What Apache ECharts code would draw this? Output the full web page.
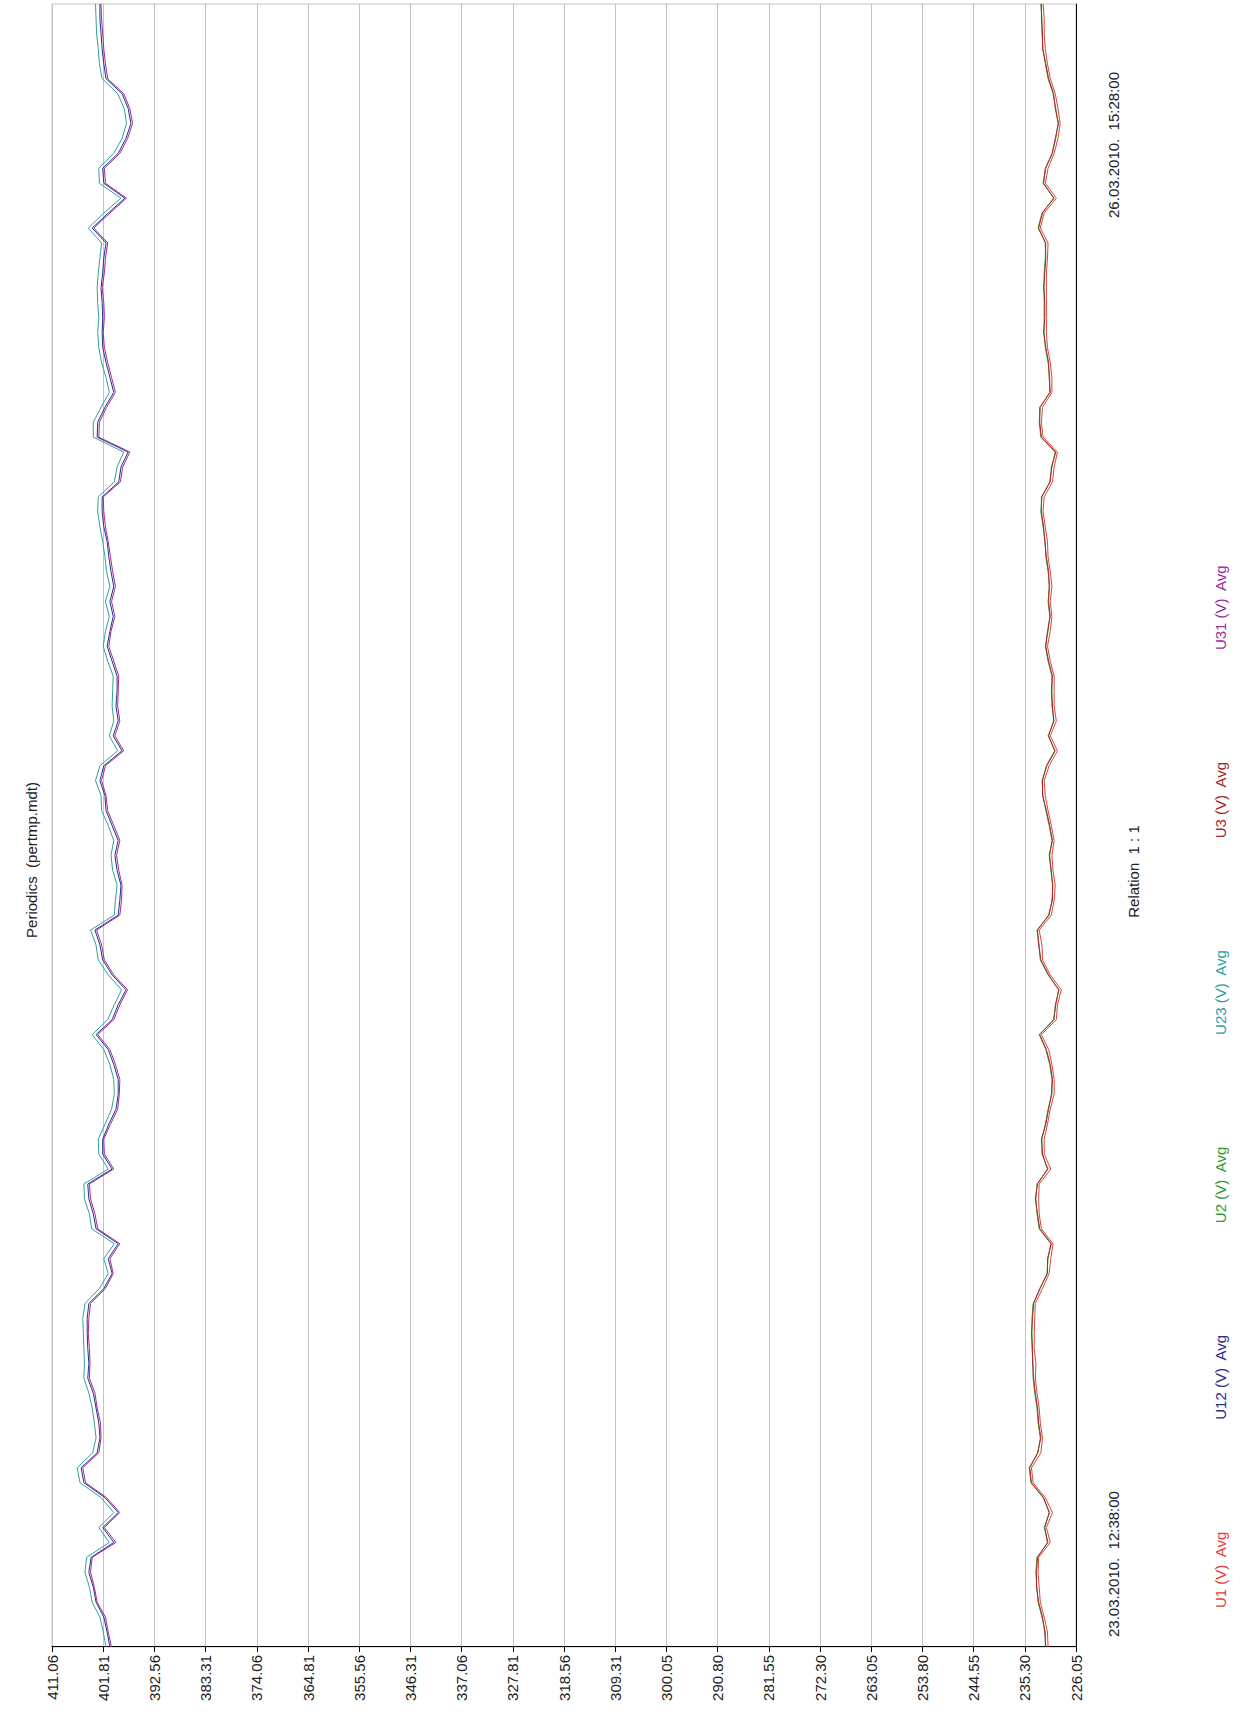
<!DOCTYPE html>
<html>
<head>
<meta charset="utf-8">
<title>Periodics (pertmp.mdt)</title>
<script src="https://cdn.jsdelivr.net/npm/echarts@6/dist/echarts.min.js"></script>
<style>
  html, body { margin: 0; padding: 0; background: #fff; }
  body { width: 1244px; height: 1720px; overflow: hidden; position: relative; }
  /* the chart is laid out landscape and turned a quarter left, like the original printout */
  #chart { position: absolute; left: 0; top: 0; width: 1720px; height: 1244px;
           transform-origin: 0 0; transform: translate(0, 1720px) rotate(-90deg); }
</style>
</head>
<body>
<div id="chart"></div>
<script>
console.log("Starting periodics chart...");

const startTime = Date.UTC(2010, 2, 23, 12, 38, 0);
const endTime = Date.UTC(2010, 2, 26, 15, 28, 0);
const pointCount = 111;

const valueMin = 226.05;
const valueMax = 411.06;
const valueStep = 9.2505;
const valueTicks = ['226.05', '235.30', '244.55', '253.80', '263.05', '272.30', '281.55',
  '290.80', '300.05', '309.31', '318.56', '327.81', '337.06', '346.31', '355.56',
  '364.81', '374.06', '383.31', '392.56', '401.81', '411.06'];

const seriesNames = ['U1 (V)  Avg', 'U12 (V)  Avg', 'U2 (V)  Avg', 'U23 (V)  Avg', 'U3 (V)  Avg', 'U31 (V)  Avg'];
const seriesColors = ['#e2403c', '#2c2c8e', '#2f9a2f', '#2fa0a0', '#a32a2a', '#9c2c9c'];

const u1 = [231.1, 231.2, 231.8, 232.5, 232.7, 232.9, 232.8, 230.7, 231.4, 230.3,
  231.6, 233.8, 234.1, 232.4, 232.1, 232.5, 232.7, 233.1, 233.4, 233.3,
  233.6, 233.6, 233.5, 233.4, 232.1, 230.9, 230.6, 230.2, 232.3, 232.7,
  232.8, 232.7, 230.6, 231.8, 231.8, 231.2, 230.7, 230.0, 230.0, 230.4,
  231.0, 232.3, 229.6, 229.4, 228.7, 230.7, 232.1, 232.2, 232.7, 230.5,
  230.0, 229.8, 230.2, 230.4, 230.0, 230.5, 231.1, 231.6, 231.8, 230.9,
  229.4, 230.7, 229.6, 230.0, 230.0, 230.0, 230.7, 231.2, 230.7, 230.4,
  230.7, 230.4, 230.7, 231.1, 231.2, 231.6, 232.0, 231.8, 230.3, 230.0,
  229.4, 232.0, 232.3, 232.1, 230.4, 230.4, 230.7, 231.2, 231.4, 231.4,
  231.4, 231.4, 231.4, 231.2, 231.1, 232.5, 231.8, 229.6, 231.6, 231.1,
  230.0, 229.3, 228.9, 229.3, 229.8, 230.7, 231.2, 231.6, 231.8, 231.8,
  232.0];

const u12 = [400.6, 401.1, 401.7, 403.1, 403.6, 404.4, 404.0, 399.9, 401.9, 399.1,
  401.5, 405.3, 405.8, 402.9, 402.4, 402.6, 403.1, 403.6, 404.6, 404.4,
  404.6, 404.7, 404.7, 404.4, 401.7, 400.2, 400.9, 399.1, 403.1, 403.6,
  404.4, 404.6, 400.2, 401.9, 401.9, 400.8, 399.5, 399.1, 399.1, 399.9,
  400.9, 403.1, 400.2, 399.1, 397.7, 400.2, 401.9, 402.4, 403.3, 399.1,
  398.8, 398.6, 399.3, 399.7, 399.1, 400.2, 401.3, 401.5, 402.4, 401.7,
  398.4, 400.0, 399.1, 399.5, 399.3, 399.3, 400.2, 401.1, 400.6, 400.0,
  400.6, 399.9, 400.4, 400.8, 401.1, 401.7, 402.0, 402.0, 399.0, 398.6,
  397.3, 402.9, 402.8, 401.5, 399.9, 400.6, 401.3, 401.9, 402.0, 401.9,
  402.0, 402.2, 401.9, 401.7, 401.3, 403.8, 400.9, 397.9, 401.7, 401.9,
  399.1, 397.7, 396.8, 397.3, 398.4, 401.3, 401.7, 402.0, 402.2, 402.4,
  402.4];

const u2 = [231.6, 231.6, 232.2, 232.9, 233.1, 233.3, 233.1, 231.1, 231.8, 230.8,
  232.0, 234.2, 234.5, 232.9, 232.5, 232.9, 233.1, 233.5, 233.8, 233.8,
  234.0, 234.0, 234.0, 233.8, 232.5, 231.3, 231.1, 230.6, 232.7, 233.1,
  233.3, 233.1, 231.1, 232.2, 232.2, 231.6, 231.1, 230.4, 230.4, 230.8,
  231.5, 232.7, 230.0, 229.8, 229.1, 231.1, 232.5, 232.7, 233.1, 230.9,
  230.4, 230.2, 230.6, 230.8, 230.4, 230.9, 231.5, 232.0, 232.2, 231.3,
  229.8, 231.1, 230.0, 230.4, 230.4, 230.4, 231.1, 231.6, 231.1, 230.8,
  231.1, 230.8, 231.1, 231.5, 231.6, 232.0, 232.4, 232.2, 230.8, 230.4,
  229.8, 232.4, 232.7, 232.5, 230.8, 230.8, 231.1, 231.6, 231.8, 231.8,
  231.8, 231.8, 231.8, 231.6, 231.5, 232.9, 232.2, 230.0, 232.0, 231.5,
  230.4, 229.7, 229.3, 229.7, 230.2, 231.1, 231.6, 232.0, 232.2, 232.2,
  232.4];

const u23 = [401.3, 401.8, 402.4, 403.8, 404.3, 405.1, 404.8, 400.7, 402.6, 399.9,
  402.2, 406.0, 406.5, 403.7, 403.1, 403.4, 403.8, 404.4, 405.3, 405.2,
  405.3, 405.4, 405.5, 405.1, 402.5, 400.9, 401.7, 399.8, 403.9, 404.3,
  405.2, 405.3, 400.9, 402.6, 402.7, 401.5, 400.3, 399.8, 399.9, 400.6,
  401.7, 403.8, 401.0, 399.8, 398.5, 400.9, 402.7, 403.1, 404.1, 399.8,
  399.6, 399.3, 400.1, 400.4, 399.9, 400.9, 402.1, 402.2, 403.2, 402.4,
  399.2, 400.7, 399.9, 400.2, 400.1, 400.0, 401.0, 401.8, 401.4, 400.7,
  401.4, 400.6, 401.2, 401.5, 401.9, 402.4, 402.8, 402.7, 399.8, 399.3,
  398.1, 403.6, 403.6, 402.2, 400.7, 401.3, 402.1, 402.6, 402.8, 402.6,
  402.8, 402.9, 402.7, 402.4, 402.1, 404.5, 401.7, 398.6, 402.5, 402.6,
  399.9, 398.4, 397.6, 398.0, 399.2, 402.0, 402.5, 402.7, 403.0, 403.1,
  403.2];

const u3 = [231.5, 231.7, 232.1, 232.8, 233.2, 233.2, 233.0, 231.2, 231.7, 230.9,
  231.9, 234.1, 234.4, 233.0, 232.4, 232.8, 233.0, 233.4, 233.7, 233.9,
  233.9, 234.1, 233.9, 233.7, 232.6, 231.2, 231.2, 230.5, 232.6, 233.0,
  233.4, 233.0, 231.2, 232.1, 232.3, 231.5, 231.0, 230.5, 230.3, 230.7,
  231.4, 232.6, 230.1, 229.7, 229.2, 231.0, 232.4, 232.8, 233.0, 231.0,
  230.3, 230.3, 230.5, 230.9, 230.3, 230.8, 231.4, 232.1, 232.1, 231.4,
  229.9, 231.0, 230.1, 230.3, 230.5, 230.3, 231.0, 231.5, 231.2, 230.7,
  231.0, 230.9, 231.0, 231.4, 231.7, 231.9, 232.3, 232.3, 230.7, 230.5,
  229.7, 232.3, 232.6, 232.6, 230.7, 230.9, 231.0, 231.5, 231.9, 231.7,
  231.7, 231.9, 231.7, 231.5, 231.6, 232.8, 232.1, 230.1, 231.9, 231.6,
  230.3, 229.8, 229.2, 229.8, 230.1, 231.0, 231.5, 232.1, 232.1, 232.3,
  232.3];

const u31 = [400.3, 400.9, 401.4, 402.9, 403.4, 404.1, 403.8, 399.5, 401.6, 398.8,
  401.2, 405.0, 405.5, 402.6, 402.2, 402.3, 402.9, 403.3, 404.3, 404.2,
  404.3, 404.5, 404.4, 404.1, 401.4, 400.0, 400.6, 398.8, 402.8, 403.3,
  404.1, 404.3, 399.9, 401.6, 401.7, 400.5, 399.2, 398.9, 398.8, 399.6,
  400.6, 402.8, 399.9, 398.8, 397.4, 399.9, 401.6, 402.1, 403.0, 398.8,
  398.5, 398.4, 399.0, 399.4, 398.8, 399.9, 401.0, 401.3, 402.1, 401.4,
  398.1, 399.7, 398.8, 399.2, 399.1, 399.0, 399.9, 400.8, 400.4, 399.7,
  400.3, 399.6, 400.1, 400.5, 400.9, 401.4, 401.7, 401.8, 398.7, 398.3,
  397.0, 402.6, 402.5, 401.2, 399.6, 400.3, 401.0, 401.6, 401.8, 401.6,
  401.7, 402.0, 401.6, 401.4, 401.0, 403.5, 400.6, 397.6, 401.4, 401.6,
  398.8, 397.4, 396.5, 397.0, 398.1, 401.0, 401.4, 401.7, 401.9, 402.1,
  402.2];

const seriesValues = [u1, u12, u2, u23, u3, u31];

function pad(n) {
    return (n < 10 ? '0' : '') + n;
}

function formatTime(ms) {
    const d = new Date(ms);
    return pad(d.getUTCDate()) + '.' + pad(d.getUTCMonth() + 1) + '.' + d.getUTCFullYear() + '.  ' +
        pad(d.getUTCHours()) + ':' + pad(d.getUTCMinutes()) + ':' + pad(d.getUTCSeconds());
}

// one category per sample, evenly spread between first and last record
const timeLabels = [];
for (let i = 0; i < pointCount; i++) {
    const t = startTime + Math.round((endTime - startTime) * i / (pointCount - 1) / 1000) * 1000;
    timeLabels.push(formatTime(t));
}

const font = 'Liberation Sans';
const chart = echarts.init(document.getElementById('chart'), null, { renderer: 'svg' });

const option = {
    animation: false,
    backgroundColor: '#fff',
    title: {
        text: 'Periodics  (pertmp.mdt)',
        left: 'center',
        top: 19,
        textStyle: { fontFamily: font, fontSize: 15, fontWeight: 'normal', color: '#222' }
    },
    legend: {
        top: 1208,
        left: 102,
        icon: 'none',
        itemWidth: 0,
        itemHeight: 14,
        itemGap: 106,
        selectedMode: false,
        textStyle: { fontFamily: font, fontSize: 15 },
        data: seriesNames.map((name, i) => ({ name: name, textStyle: { color: seriesColors[i] } }))
    },
    grid: {
        left: 73,
        right: 4,
        top: 52,
        bottom: 168,
        show: true,
        borderColor: '#c4c4c4',
        borderWidth: 1,
        containLabel: false,
        outerBoundsMode: 'none'
    },
    xAxis: {
        type: 'category',
        data: timeLabels,
        boundaryGap: false,
        axisLine: { lineStyle: { color: '#000', width: 1 } },
        axisTick: { show: false },
        splitLine: { show: false },
        axisLabel: {
            interval: (i) => i === 0 || i === pointCount - 1,
            showMinLabel: true,
            showMaxLabel: true,
            alignMinLabel: 'left',
            alignMaxLabel: 'right',
            margin: 30,
            color: '#222',
            fontFamily: font,
            fontSize: 15,
            formatter: (value, i) => (i === 0 ? '{first|' + value + '}' : '{last|' + value + '}'),
            rich: {
                first: { padding: [0, 0, 0, 10], fontFamily: font, fontSize: 15, color: '#222' },
                last: { padding: [0, 68, 0, 0], fontFamily: font, fontSize: 15, color: '#222' }
            }
        },
        name: 'Relation  1 : 1',
        nameLocation: 'middle',
        nameGap: 22,
        nameTextStyle: { fontFamily: font, fontSize: 15, color: '#222', padding: [0, 92, 0, 0] }
    },
    yAxis: {
        type: 'value',
        min: valueMin,
        max: valueMax,
        interval: valueStep,
        axisLine: { show: true, lineStyle: { color: '#000', width: 1 } },
        axisTick: { show: true, length: 5, lineStyle: { color: '#000' } },
        axisLabel: {
            color: '#222',
            fontFamily: font,
            fontSize: 15,
            margin: 8,
            formatter: (v) => valueTicks[Math.round((v - valueMin) / valueStep)]
        },
        splitLine: { lineStyle: { color: '#c4c4c4', width: 1 } }
    },
    series: seriesNames.map((name, i) => ({
        name: name,
        type: 'line',
        data: seriesValues[i],
        symbol: 'none',
        showSymbol: false,
        lineStyle: { width: 1, color: seriesColors[i] },
        itemStyle: { color: seriesColors[i] }
    }))
};

chart.setOption(option);

console.log("Periodics chart drawn...");
</script>
</body>
</html>
